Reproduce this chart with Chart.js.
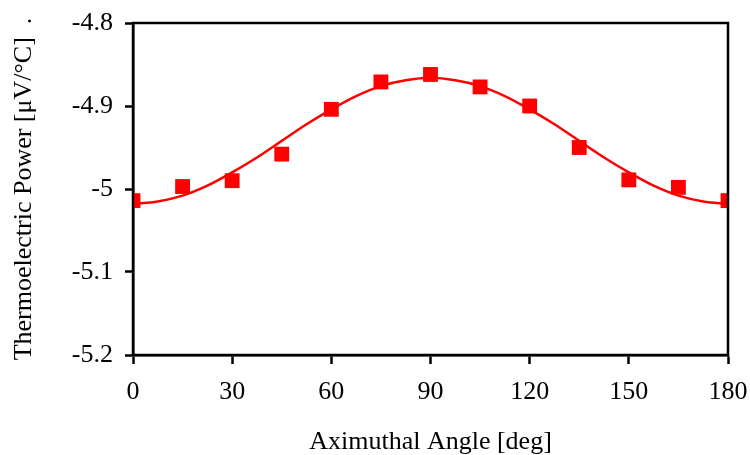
<!DOCTYPE html>
<html>
<head>
<meta charset="utf-8">
<script src="https://cdn.jsdelivr.net/npm/chart.js@4/dist/chart.umd.min.js"></script>
<style>
  html, body { margin: 0; padding: 0; background: #fff; }
  #wrap { width: 750px; height: 455px; }
</style>
</head>
<body>
<div id="wrap"><canvas id="chart" width="750" height="455"></canvas></div>
<script>
// measured points
const angles = [0, 15, 30, 45, 60, 75, 90, 105, 120, 135, 150, 165, 180];
const measured = [-5.014, -4.997, -4.990, -4.958, -4.904, -4.871, -4.862, -4.877, -4.900, -4.950, -4.989, -4.998, -5.014];

// fitted curve
const fitAngles = [0, 7.5, 15, 22.5, 30, 37.5, 45, 52.5, 60, 67.5, 75, 82.5, 90,
  97.5, 105, 112.5, 120, 127.5, 135, 142.5, 150, 157.5, 165, 172.5, 180];
const fitValues = [-5.018, -5.015, -5.008, -4.996, -4.980, -4.962, -4.942, -4.922, -4.904, -4.888, -4.876, -4.869, -4.866,
  -4.869, -4.876, -4.888, -4.904, -4.922, -4.942, -4.962, -4.980, -4.996, -5.008, -5.015, -5.018];

const xTicks = [0, 30, 60, 90, 120, 150, 180];
const yTicks = [-5.2, -5.1, -5.0, -4.9, -4.8];

const FONT = "'Liberation Serif', 'Times New Roman', serif";
const SIZE = 26;

// box round the plot area
const frame = {
  id: 'frame',
  afterDraw(chart) {
    const a = chart.chartArea;
    const c = chart.ctx;
    c.save();
    c.strokeStyle = '#000';
    c.lineWidth = 2.5;
    c.strokeRect(a.left, a.top, a.right - a.left, a.bottom - a.top);
    c.restore();
  }
};

new Chart(document.getElementById('chart'), {
  type: 'scatter',
  data: {
    datasets: [
      {
        type: 'line',
        data: fitAngles.map((x, i) => ({ x: x, y: fitValues[i] })),
        borderColor: '#ff0000',
        borderWidth: 2.5,
        pointRadius: 0,
        cubicInterpolationMode: 'monotone',
        fill: false,
        order: 2
      },
      {
        data: angles.map((x, i) => ({ x: x, y: measured[i] })),
        backgroundColor: '#ff0000',
        borderWidth: 0,
        pointStyle: 'rect',
        pointRadius: 10.5,
        order: 1
      }
    ]
  },
  options: {
    responsive: false,
    animation: false,
    layout: { padding: { left: 0, top: 23, right: 22, bottom: -3 } },
    plugins: { legend: { display: false }, tooltip: { enabled: false } },
    scales: {
      x: {
        type: 'linear',
        min: 0, max: 180,
        afterBuildTicks: (s) => { s.ticks = xTicks.map(v => ({ value: v })); },
        afterFit: (s) => { s.height = 103; s.paddingLeft = 0; s.paddingRight = 0; },
        ticks: { color: '#000', font: { family: FONT, size: SIZE }, padding: 13, maxRotation: 0 },
        grid: { drawOnChartArea: false, drawTicks: true, tickLength: 9, tickColor: '#000', tickWidth: 2.5 },
        border: { color: '#000', width: 2.5 },
        title: {
          display: true, text: 'Aximuthal Angle [deg]', color: '#000',
          font: { family: FONT, size: SIZE }, padding: { top: 0, bottom: 0 }
        }
      },
      y: {
        min: -5.2, max: -4.8,
        afterBuildTicks: (s) => { s.ticks = yTicks.map(v => ({ value: v })); },
        afterFit: (s) => { s.width = 133; s.paddingTop = 0; s.paddingBottom = 0; },
        ticks: {
          color: '#000', font: { family: FONT, size: SIZE }, padding: 12,
          callback: (v) => String(Math.round(v * 10) / 10)
        },
        grid: { drawOnChartArea: false, drawTicks: true, tickLength: 8, tickColor: '#000', tickWidth: 2.5 },
        border: { color: '#000', width: 2.5 },
        title: {
          display: true, text: 'Thermoelectric Power [\u03bcV/\u00b0C]  .', color: '#000',
          font: { family: FONT, size: SIZE }, padding: { top: 9, bottom: 0 }
        }
      }
    }
  },
  plugins: [frame]
});
</script>
</body>
</html>
